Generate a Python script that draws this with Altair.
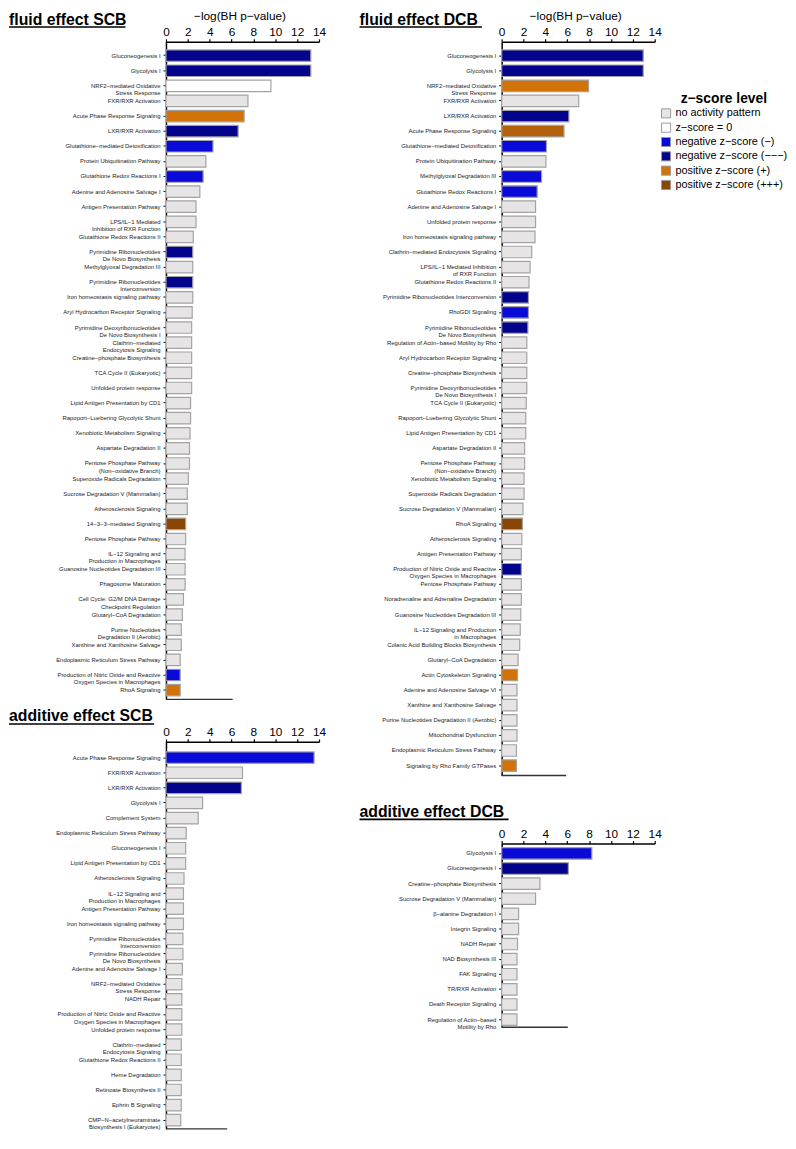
import altair as alt
import pandas as pd

FONT = "Liberation Sans"

# ---------------- categories / colours ----------------
cat_keys = ["na", "z0", "n1", "n3", "p1", "p2", "p3"]
cat_labels = ["no activity pattern", "z−score = 0", "negative z−score (−)",
              "negative z−score (−−−)", "positive z−score (+)",
              "positive z−score (++)", "positive z−score (+++)"]
cat_colors = ["#e6e4e4", "#ffffff", "#0a0ad8", "#03038c", "#d17309", "#b5600d", "#8a4604"]
legend_values = ["no activity pattern", "z−score = 0", "negative z−score (−)",
                 "negative z−score (−−−)", "positive z−score (+)", "positive z−score (+++)"]

# ---------------- fluid effect SCB ----------------
fluid_scb_labels = [
    "Gluconeogenesis I", "Glycolysis I", "NRF2−mediated Oxidative\nStress Response",
    "FXR/RXR Activation", "Acute Phase Response Signaling", "LXR/RXR Activation",
    "Glutathione−mediated Detoxification", "Protein Ubiquitination Pathway",
    "Glutathione Redox Reactions I", "Adenine and Adenosine Salvage I",
    "Antigen Presentation Pathway", "LPS/IL−1 Mediated\nInhibition of RXR Function",
    "Glutathione Redox Reactions II", "Pyrimidine Ribonucleotides\nDe Novo Biosynthesis",
    "Methylglyoxal Degradation III", "Pyrimidine Ribonucleotides\nInterconversion",
    "Iron homeostasis signaling pathway", "Aryl Hydrocarbon Receptor Signaling",
    "Pyrimidine Deoxyribonucleotides\nDe Novo Biosynthesis I",
    "Clathrin−mediated\nEndocytosis Signaling", "Creatine−phosphate Biosynthesis",
    "TCA Cycle II (Eukaryotic)", "Unfolded protein response",
    "Lipid Antigen Presentation by CD1", "Rapoport−Luebering Glycolytic Shunt",
    "Xenobiotic Metabolism Signaling", "Aspartate Degradation II",
    "Pentose Phosphate Pathway\n(Non−oxidative Branch)", "Superoxide Radicals Degradation",
    "Sucrose Degradation V (Mammalian)", "Atherosclerosis Signaling",
    "14−3−3−mediated Signaling", "Pentose Phosphate Pathway",
    "IL−12 Signaling and\nProduction in Macrophages", "Guanosine Nucleotides Degradation III",
    "Phagosome Maturation", "Cell Cycle: G2/M DNA Damage\nCheckpoint Regulation",
    "Glutaryl−CoA Degradation", "Purine Nucleotides\nDegradation II (Aerobic)",
    "Xanthine and Xanthosine Salvage", "Endoplasmic Reticulum Stress Pathway",
    "Production of Nitric Oxide and Reactive\nOxygen Species in Macrophages",
    "RhoA Signaling"]
fluid_scb_values = [13.25, 13.25, 9.6, 7.5, 7.15, 6.6, 4.3, 3.65, 3.4, 3.1, 2.75, 2.75,
                    2.5, 2.45, 2.45, 2.45, 2.45, 2.4, 2.35, 2.35, 2.35, 2.35, 2.35, 2.25,
                    2.25, 2.2, 2.15, 2.15, 2.05, 1.95, 1.95, 1.8, 1.8, 1.75, 1.75, 1.75,
                    1.6, 1.5, 1.4, 1.4, 1.3, 1.3, 1.3]
fluid_scb_z = ["n3", "n3", "z0", "na", "p1", "n3", "n1", "na", "n1", "na", "na", "na",
               "na", "n3", "na", "n3", "na", "na", "na", "na", "na", "na", "na", "na",
               "na", "na", "na", "na", "na", "na", "na", "p3", "na", "na", "na", "na",
               "na", "na", "na", "na", "na", "n1", "p1"]

# ---------------- additive effect SCB ----------------
add_scb_labels = [
    "Acute Phase Response Signaling", "FXR/RXR Activation", "LXR/RXR Activation",
    "Glycolysis I", "Complement System", "Endoplasmic Reticulum Stress Pathway",
    "Gluconeogenesis I", "Lipid Antigen Presentation by CD1", "Atherosclerosis Signaling",
    "IL−12 Signaling and\nProduction in Macrophages", "Antigen Presentation Pathway",
    "Iron homeostasis signaling pathway", "Pyrimidine Ribonucleotides\nInterconversion",
    "Pyrimidine Ribonucleotides\nDe Novo Biosynthesis", "Adenine and Adenosine Salvage I",
    "NRF2−mediated Oxidative\nStress Response", "NADH Repair",
    "Production of Nitric Oxide and Reactive\nOxygen Species in Macrophages",
    "Unfolded protein response", "Clathrin−mediated\nEndocytosis Signaling",
    "Glutathione Redox Reactions II", "Heme Degradation", "Retinoate Biosynthesis II",
    "Ephrin B Signaling", "CMP−N−acetylneuraminate\nBiosynthesis I (Eukaryotes)"]
add_scb_values = [13.55, 7.0, 6.9, 3.35, 2.95, 1.85, 1.8, 1.8, 1.65, 1.6, 1.6, 1.6,
                  1.55, 1.55, 1.5, 1.45, 1.45, 1.45, 1.45, 1.4, 1.4, 1.4, 1.4, 1.4, 1.35]
add_scb_z = ["n1", "na", "n3"] + ["na"] * 22

# ---------------- fluid effect DCB ----------------
fluid_dcb_labels = [
    "Gluconeogenesis I", "Glycolysis I", "NRF2−mediated Oxidative\nStress Response",
    "FXR/RXR Activation", "LXR/RXR Activation", "Acute Phase Response Signaling",
    "Glutathione−mediated Detoxification", "Protein Ubiquitination Pathway",
    "Methylglyoxal Degradation III", "Glutathione Redox Reactions I",
    "Adenine and Adenosine Salvage I", "Unfolded protein response",
    "Iron homeostasis signaling pathway", "Clathrin−mediated Endocytosis Signaling",
    "LPS/IL−1 Mediated Inhibition\nof RXR Function", "Glutathione Redox Reactions II",
    "Pyrimidine Ribonucleotides Interconversion", "RhoGDI Signaling",
    "Pyrimidine Ribonucleotides\nDe Novo Biosynthesis",
    "Regulation of Actin−based Motility by Rho", "Aryl Hydrocarbon Receptor Signaling",
    "Creatine−phosphate Biosynthesis",
    "Pyrimidine Deoxyribonucleotides\nDe Novo Biosynthesis I",
    "TCA Cycle II (Eukaryotic)", "Rapoport−Luebering Glycolytic Shunt",
    "Lipid Antigen Presentation by CD1", "Aspartate Degradation II",
    "Pentose Phosphate Pathway\n(Non−oxidative Branch)", "Xenobiotic Metabolism Signaling",
    "Superoxide Radicals Degradation", "Sucrose Degradation V (Mammalian)",
    "RhoA Signaling", "Atherosclerosis Signaling", "Antigen Presentation Pathway",
    "Production of Nitric Oxide and Reactive\nOxygen Species in Macrophages",
    "Pentose Phosphate Pathway", "Noradrenaline and Adrenaline Degradation",
    "Guanosine Nucleotides Degradation III",
    "IL−12 Signaling and Production\nin Macrophages",
    "Colanic Acid Building Blocks Biosynthesis", "Glutaryl−CoA Degradation",
    "Actin Cytoskeleton Signaling", "Adenine and Adenosine Salvage VI",
    "Xanthine and Xanthosine Salvage", "Purine Nucleotides Degradation II (Aerobic)",
    "Mitochondrial Dysfunction", "Endoplasmic Reticulum Stress Pathway",
    "Signaling by Rho Family GTPases"]
fluid_dcb_values = [12.95, 12.95, 7.95, 7.05, 6.15, 5.7, 4.1, 4.05, 3.65, 3.25, 3.1, 3.1,
                    3.05, 2.75, 2.6, 2.5, 2.45, 2.45, 2.4, 2.3, 2.3, 2.3, 2.3, 2.25, 2.2,
                    2.2, 2.1, 2.1, 2.05, 2.05, 1.95, 1.9, 1.85, 1.8, 1.8, 1.8, 1.8, 1.75,
                    1.7, 1.65, 1.5, 1.45, 1.4, 1.4, 1.4, 1.4, 1.35, 1.35]
fluid_dcb_z = ["n3", "n3", "p1", "na", "n3", "p2", "n1", "na", "n1", "n1", "na", "na",
               "na", "na", "na", "na", "n3", "n1", "n3", "na", "na", "na", "na", "na",
               "na", "na", "na", "na", "na", "na", "na", "p3", "na", "na", "n3", "na",
               "na", "na", "na", "na", "na", "p1", "na", "na", "na", "na", "na", "p1"]

# ---------------- additive effect DCB ----------------
add_dcb_labels = [
    "Glycolysis I", "Gluconeogenesis I", "Creatine−phosphate Biosynthesis",
    "Sucrose Degradation V (Mammalian)", "β−alanine Degradation I", "Integrin Signaling",
    "NADH Repair", "NAD Biosynthesis III", "FAK Signaling", "TR/RXR Activation",
    "Death Receptor Signaling", "Regulation of Actin−based\nMotility by Rho"]
add_dcb_values = [8.25, 6.1, 3.5, 3.1, 1.55, 1.55, 1.45, 1.4, 1.4, 1.4, 1.4, 1.4]
add_dcb_z = ["n1", "n3"] + ["na"] * 10

# end of the short bottom line of each panel (x units)
bottom_line_end = {"fluid_scb": 6.1, "add_scb": 5.6, "fluid_dcb": 5.9, "add_dcb": 6.05}

x_ticks = [0, 2, 4, 6, 8, 10, 12, 14]
AXIS_TITLE = "−log(BH p−value)"

cat_map = dict(zip(cat_keys, cat_labels))

STEP = 15.3
PI = 0.24
PW = 155


def panel(labels, values, zs, title, H, c0, tdx, tdy, tw, udy, with_title, bend):
    n = len(labels)
    df = pd.DataFrame({"pathway": labels, "value": values,
                       "z": [cat_map[k] for k in zs]})
    po = (H / STEP - n + PI) / 2
    extra = H - STEP * (n - PI)
    align = (c0 - STEP * (1 - PI) / 2) / extra

    xaxis = alt.Axis(orient="top", values=x_ticks, grid=False, title=None,
                     labelFontSize=12, labelColor="black", labelPadding=0,
                     labelFlush=False, labelOverlap=False, tickSize=3,
                     tickColor="black", tickWidth=1.2, domainColor="black",
                     domainWidth=1.5)
    xscale = alt.Scale(domain=[0, 14], nice=False, zero=True)

    bars = alt.Chart(df).mark_bar(stroke="#a3a3a3", strokeWidth=1.2).encode(
        x=alt.X("value:Q", scale=xscale, axis=xaxis),
        y=alt.Y("pathway:N", sort=labels,
                scale=alt.Scale(paddingInner=PI, paddingOuter=po, align=align,
                                round=False),
                axis=alt.Axis(title=None, labelFontSize=6, labelColor="#222",
                              labelLineHeight=7.3, labelOverlap=False,
                              labelExpr="split(datum.label, '\\n')",
                              labelPadding=3, tickSize=3, tickColor="black",
                              tickWidth=1, domainColor="black", domainWidth=1.5)),
        color=alt.Color("z:N", scale=alt.Scale(domain=cat_labels, range=cat_colors),
                        legend=alt.Legend(title="z−score level", orient="none",
                                          legendX=501, legendY=51,
                                          values=legend_values, symbolType="square",
                                          symbolSize=85, symbolStrokeColor="#9a9a9a",
                                          symbolStrokeWidth=1, labelFontSize=11,
                                          labelColor="black", labelOffset=4,
                                          titleFontSize=14, titleFontWeight="bold",
                                          titleColor="black", titleAnchor="middle",
                                          titlePadding=2, rowPadding=-0.5)),
    )
    bl = alt.Chart(pd.DataFrame({"value": [0.0], "value_end": [bend]})).mark_rule(
        color="#333", strokeWidth=1.5).encode(
        x=alt.X("value:Q", scale=xscale, axis=xaxis),
        x2="value_end:Q",
        y=alt.value(H))
    tdf = pd.DataFrame({"t": [title]})
    ttl = alt.Chart(tdf).mark_text(align="left", baseline="middle", fontSize=16,
                                   fontWeight="bold", color="black").encode(
        x=alt.value(tdx), y=alt.value(tdy), text="t:N")
    ul = alt.Chart(tdf).mark_rule(color="black", strokeWidth=1.6).encode(
        x=alt.value(tdx), x2=alt.value(tdx + tw), y=alt.value(udy))
    layers = [bars, bl, ttl, ul]
    if with_title:
        at = alt.Chart(pd.DataFrame({"t": [AXIS_TITLE]})).mark_text(
            align="center", baseline="middle", fontSize=12, color="black").encode(
            x=alt.value(75), y=alt.value(-26.5), text="t:N")
        layers.append(at)
    return alt.layer(*layers).properties(width=PW, height=H)


A = panel(fluid_scb_labels, fluid_scb_values, fluid_scb_z, "fluid effect SCB",
          666, 14, -159, -22, 118, -15, True, bottom_line_end["fluid_scb"])
B = panel(add_scb_labels, add_scb_values, add_scb_z, "additive effect SCB",
          392, 16, -159, -26, 147, -18, False, bottom_line_end["add_scb"])
C = panel(fluid_dcb_labels, fluid_dcb_values, fluid_dcb_z, "fluid effect DCB",
          743, 14, -144, -22, 124, -15, True, bottom_line_end["fluid_dcb"])
D = panel(add_dcb_labels, add_dcb_values, add_dcb_z, "additive effect DCB",
          186, 10, -144, -32, 151, -24.5, False, bottom_line_end["add_dcb"])

left = alt.vconcat(A, B, spacing=43, bounds="flush")
right = alt.vconcat(C, D, spacing=69, bounds="flush")

chart = alt.hconcat(left, right, spacing=33).properties(
    padding={"top": -6, "left": 0, "right": 0, "bottom": 0}).configure(
    font=FONT).configure_view(strokeWidth=0)

chart.save("out.html", embed_options={"renderer": "svg", "actions": False})
